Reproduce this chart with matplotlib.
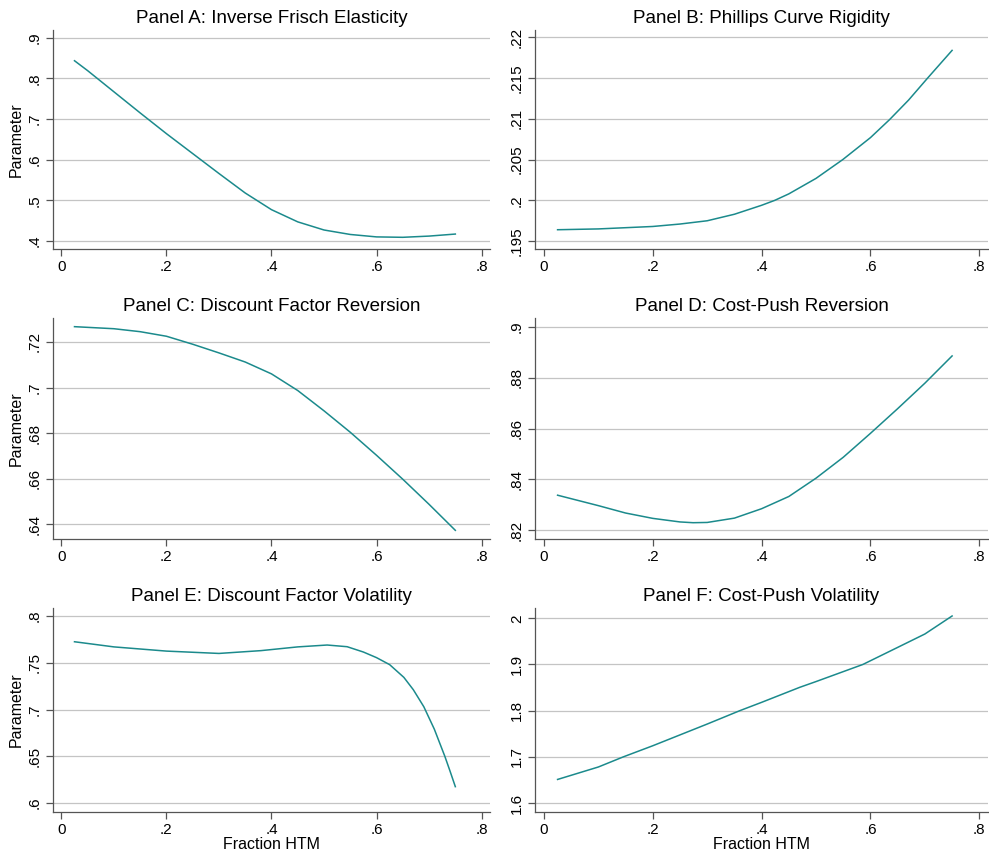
import matplotlib
matplotlib.use("Agg")
import matplotlib.pyplot as plt
from matplotlib.ticker import FuncFormatter

plt.rcParams['font.family'] = ['Liberation Sans', 'DejaVu Sans']

# values
x_a = [0.025, 0.05, 0.1, 0.15, 0.2, 0.25, 0.3, 0.35, 0.4, 0.45, 0.5, 0.55, 0.6, 0.65, 0.7, 0.75]
y_a = [0.8434, 0.819, 0.767, 0.715, 0.664, 0.615, 0.566, 0.518, 0.477, 0.447, 0.427, 0.416, 0.410, 0.409, 0.412, 0.417]

x_b = [0.025, 0.1, 0.2, 0.25, 0.3, 0.35, 0.4, 0.424, 0.45, 0.5, 0.549, 0.6, 0.635, 0.67, 0.705, 0.75]
y_b = [0.1964, 0.1965, 0.1968, 0.1971, 0.1975, 0.1983, 0.1994, 0.2, 0.2008, 0.2027, 0.205, 0.2077, 0.2099, 0.2123, 0.215, 0.2184]

x_c = [0.025, 0.1, 0.15, 0.2, 0.25, 0.3, 0.35, 0.4, 0.45, 0.5, 0.55, 0.6, 0.65, 0.7, 0.75]
y_c = [0.7267, 0.7258, 0.7245, 0.7225, 0.719, 0.7152, 0.7112, 0.706, 0.6987, 0.6898, 0.6804, 0.6703, 0.6598, 0.6488, 0.6374]

x_d = [0.025, 0.1, 0.15, 0.2, 0.25, 0.274, 0.3, 0.35, 0.4, 0.45, 0.5, 0.55, 0.6, 0.65, 0.7, 0.75]
y_d = [0.8338, 0.8297, 0.8268, 0.8247, 0.8233, 0.823, 0.8231, 0.8248, 0.8285, 0.8333, 0.8405, 0.8487, 0.8581, 0.8678, 0.8778, 0.8885]

x_e = [0.025, 0.1, 0.2, 0.3, 0.38, 0.45, 0.506, 0.544, 0.575, 0.6, 0.625, 0.652, 0.67, 0.69, 0.71, 0.73, 0.74, 0.75]
y_e = [0.7725, 0.767, 0.7625, 0.760, 0.763, 0.767, 0.769, 0.7672, 0.7615, 0.7555, 0.748, 0.7344, 0.7212, 0.703, 0.679, 0.650, 0.634, 0.6175]

x_f = [0.025, 0.1, 0.146, 0.2, 0.3, 0.36, 0.4, 0.47, 0.5, 0.586, 0.65, 0.7, 0.75]
y_f = [1.651, 1.678, 1.70, 1.724, 1.771, 1.80, 1.818, 1.8505, 1.863, 1.90, 1.937, 1.966, 2.005]

titles = ["Panel A: Inverse Frisch Elasticity", "Panel B: Phillips Curve Rigidity",
          "Panel C: Discount Factor Reversion", "Panel D: Cost-Push Reversion",
          "Panel E: Discount Factor Volatility", "Panel F: Cost-Push Volatility"]
yticks = [[0.4, 0.5, 0.6, 0.7, 0.8, 0.9],
          [0.195, 0.2, 0.205, 0.21, 0.215, 0.22],
          [0.64, 0.66, 0.68, 0.7, 0.72],
          [0.82, 0.84, 0.86, 0.88, 0.9],
          [0.6, 0.65, 0.7, 0.75, 0.8],
          [1.6, 1.7, 1.8, 1.9, 2.0]]
ylims = [(0.3795, 0.919), (0.194, 0.2209), (0.6336, 0.7305),
         (0.8166, 0.9034), (0.5904, 0.8086), (1.5805, 2.0223)]
xticks = [0, 0.2, 0.4, 0.6, 0.8]
series = [(x_a, y_a), (x_b, y_b), (x_c, y_c), (x_d, y_d), (x_e, y_e), (x_f, y_f)]

W, H = 989, 857
cols = [(52.7, 490), (535, 988)]
rows = [(30, 249.3), (318, 539), (608, 812)]


def fmt(v, pos):
    s = ('%.3f' % v).rstrip('0').rstrip('.')
    if s.startswith('0.'):
        s = s[1:]
    return s


fig = plt.figure(figsize=(W / 100, H / 100), dpi=100)
line_col = '#1b8a8c'

for i in range(6):
    r, c = divmod(i, 2)
    l, rr = cols[c]
    t, b = rows[r]
    ax = fig.add_axes([l / W, 1 - b / H, (rr - l) / W, (b - t) / H])
    x, y = series[i]
    ax.plot(x, y, color=line_col, lw=1.1, zorder=3)
    ax.set_xlim(-0.0165, 0.816)
    ax.set_ylim(*ylims[i])
    ax.set_xticks(xticks)
    ax.set_yticks(yticks[i])
    ax.xaxis.set_major_formatter(FuncFormatter(fmt))
    ax.yaxis.set_major_formatter(FuncFormatter(fmt))
    ax.grid(axis='y', color='#c4c4c4', lw=0.9, zorder=0)
    ax.set_axisbelow(True)
    for s in ['top', 'right']:
        ax.spines[s].set_visible(False)
    for s in ['left', 'bottom']:
        ax.spines[s].set_color('#555555')
        ax.spines[s].set_linewidth(0.9)
    ax.tick_params(axis='both', colors='#555555', labelcolor='black', labelsize=11,
                   length=5, width=0.9, pad=3)
    for lab in ax.get_yticklabels():
        lab.set_rotation(90)
        lab.set_va('center')
    ax.set_title(titles[i], fontsize=13.5, pad=5)
    if c == 0:
        ax.set_ylabel("Parameter", fontsize=11.5, labelpad=3)
    if r == 2:
        ax.set_xlabel("Fraction HTM", fontsize=11.5, labelpad=0)

fig.savefig("out.png", dpi=100, facecolor='white')
